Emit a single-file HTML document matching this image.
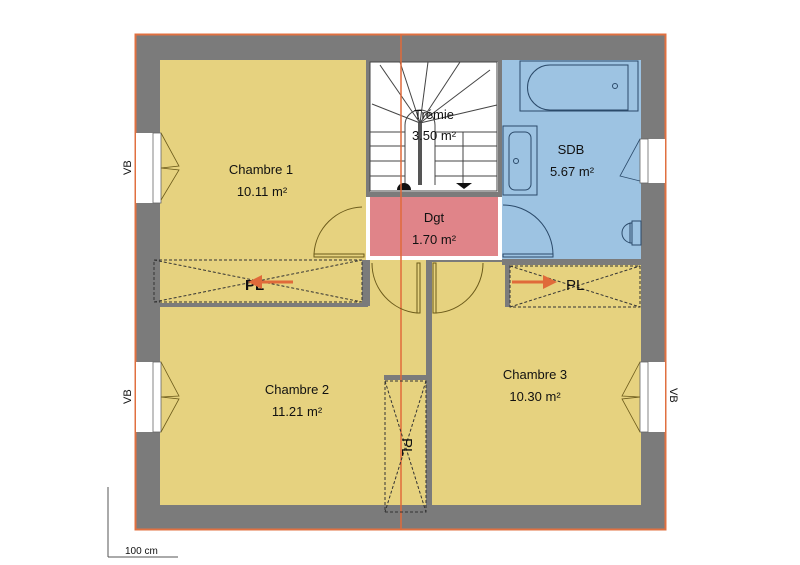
<!DOCTYPE html>
<html><head><meta charset="utf-8"><style>
html,body{margin:0;padding:0;background:#fff;width:800px;height:565px;overflow:hidden}
svg{display:block}
text{font-family:"Liberation Sans",sans-serif;fill:#111}
</style></head><body>
<svg width="800" height="565" viewBox="0 0 800 565" xmlns="http://www.w3.org/2000/svg">
<!-- outer walls -->
<rect x="135" y="34" width="531" height="496" fill="#7b7b7b"/>
<!-- rooms -->
<rect x="160" y="60" width="206" height="246" fill="#e6d27f"/>
<rect x="160" y="306" width="226" height="199" fill="#e6d27f"/>
<rect x="384" y="260" width="42" height="245" fill="#e6d27f"/>
<rect x="370" y="260" width="56" height="115" fill="#e6d27f"/>
<rect x="432" y="262" width="209" height="243" fill="#e6d27f"/>
<rect x="370" y="62" width="128" height="130" fill="#fff"/>
<rect x="370" y="197" width="130" height="63" fill="#e08489"/>
<rect x="502" y="60" width="139" height="199" fill="#9dc3e2"/>
<!-- internal walls -->
<rect x="366" y="60" width="4" height="200" fill="#7b7b7b"/>
<rect x="370" y="192" width="130" height="5" fill="#7b7b7b"/>
<rect x="498" y="60" width="4" height="200" fill="#7b7b7b"/>
<rect x="160" y="303" width="208" height="4" fill="#7b7b7b"/>
<rect x="362" y="260" width="6" height="47" fill="#7b7b7b"/>
<rect x="426" y="260" width="6" height="245" fill="#7b7b7b"/>
<rect x="384" y="375" width="42" height="5" fill="#7b7b7b"/>
<rect x="502" y="259" width="139" height="6" fill="#7b7b7b"/>
<rect x="505" y="265" width="5" height="42" fill="#7b7b7b"/>
<rect x="370" y="256" width="128" height="4" fill="#fff"/>
<rect x="366" y="197" width="4" height="63" fill="#fff"/>
<rect x="498" y="197" width="4" height="63" fill="#fff"/>
<!-- orange outline -->
<rect x="135.5" y="34.5" width="530" height="495" fill="none" stroke="#e07040" stroke-width="2"/>
<!-- stairs -->
<g stroke="#444" stroke-width="1" fill="none">
<rect x="370" y="62" width="127" height="129"/>
<line x1="370" y1="132" x2="405" y2="132"/><line x1="370" y1="146" x2="405" y2="146"/><line x1="370" y1="161" x2="405" y2="161"/><line x1="370" y1="176" x2="405" y2="176"/>
<line x1="435" y1="132" x2="497" y2="132"/><line x1="435" y1="146" x2="497" y2="146"/><line x1="435" y1="161" x2="497" y2="161"/><line x1="435" y1="176" x2="497" y2="176"/>
<line x1="420" y1="123" x2="380" y2="65"/><line x1="420" y1="123" x2="400" y2="62"/><line x1="420" y1="123" x2="428" y2="62"/><line x1="420" y1="123" x2="460" y2="62"/><line x1="420" y1="123" x2="490" y2="70"/><line x1="420" y1="123" x2="497" y2="105"/><line x1="420" y1="123" x2="372" y2="104"/>
<path d="M405 185 V125 A15 15 0 0 1 435 125 V185"/>
<line x1="463" y1="132" x2="463" y2="183"/>
</g>
<rect x="418" y="123" width="4" height="62" fill="#555"/>
<path d="M456 183 L472 183 L464 189 Z" fill="#111"/>
<path d="M397 190 A7 7 0 0 1 411 190 Z" fill="#111"/>
<!-- red axis line -->
<line x1="401" y1="34" x2="401" y2="530" stroke="#e06a3a" stroke-width="1.5"/>
<!-- doors -->
<g stroke="#6b5a1a" stroke-width="1" fill="none">
<path d="M314 254 A50 50 0 0 1 362 207"/><rect x="314" y="254" width="50" height="3"/>
<path d="M372 263 A50 50 0 0 0 417 313"/><rect x="417" y="263" width="3" height="50"/>
<path d="M483 263 A50 50 0 0 1 436 313"/><rect x="433" y="263" width="3" height="50"/>
<path d="M503 205 A50 50 0 0 1 553 255" stroke="#2b4a6a"/><rect x="503" y="254" width="50" height="3" stroke="#2b4a6a"/>
</g>
<!-- closets -->
<g stroke="#333" stroke-width="1" stroke-dasharray="3,2" fill="none">
<rect x="154" y="260" width="208" height="42"/>
<line x1="154" y1="260" x2="362" y2="302"/><line x1="154" y1="302" x2="362" y2="260"/>
<rect x="510" y="266" width="130" height="41"/>
<line x1="510" y1="266" x2="640" y2="307"/><line x1="510" y1="307" x2="640" y2="266"/>
<rect x="385" y="381" width="41" height="131"/>
<line x1="385" y1="381" x2="426" y2="512"/><line x1="426" y1="381" x2="385" y2="512"/>
</g>
<text x="245" y="290" font-size="15" font-weight="bold">PL</text>
<line x1="293" y1="282" x2="260" y2="282" stroke="#e06a3a" stroke-width="3"/>
<path d="M248 282 L262 275 L262 289 Z" fill="#e06a3a"/>
<text x="566" y="290" font-size="15">PL</text>
<line x1="512" y1="282" x2="545" y2="282" stroke="#e06a3a" stroke-width="3"/>
<path d="M557 282 L543 275 L543 289 Z" fill="#e06a3a"/>
<text x="0" y="0" font-size="15" transform="translate(402,438) rotate(90)">PL</text>
<!-- SDB fixtures -->
<g stroke="#2b4a6a" stroke-width="1" fill="none">
<rect x="520" y="61" width="118" height="50"/>
<path d="M550 65 H628 V110 H550 A22 22 0 0 1 550 65 Z"/>
<circle cx="615" cy="86" r="2.5"/>
<rect x="503" y="126" width="34" height="69"/>
<rect x="509" y="132" width="22" height="58" rx="6"/>
<circle cx="516" cy="161" r="2.5"/>
<path d="M632 223 H630 V243 H632 A10 10 0 0 1 632 223 Z"/>
<rect x="632" y="221" width="9" height="24"/>
</g>
<!-- windows -->
<g fill="#fff" stroke="#666" stroke-width="0.8">
<rect x="136" y="133" width="17" height="70" stroke="none"/>
<rect x="153" y="133" width="8" height="70"/>
<rect x="136" y="362" width="17" height="70" stroke="none"/>
<rect x="153" y="362" width="8" height="70"/>
<rect x="648" y="139" width="17" height="44" stroke="none"/>
<rect x="640" y="139" width="8" height="44"/>
<rect x="648" y="362" width="17" height="70" stroke="none"/>
<rect x="640" y="362" width="8" height="70"/>
</g>
<g stroke="#6b5a1a" stroke-width="0.8" fill="none">
<path d="M161 133 L179 166 L161 168 M161 200 L179 170 L161 168"/>
<path d="M161 362 L179 396 L161 397 M161 432 L179 399 L161 397"/>
<path d="M640 139 L620 176 L640 181" stroke="#2b4a6a"/>
<path d="M640 362 L622 396 L640 397 M640 432 L622 399 L640 397"/>
</g>
<text x="0" y="0" font-size="11" transform="translate(131,175) rotate(-90)">VB</text>
<text x="0" y="0" font-size="11" transform="translate(131,404) rotate(-90)">VB</text>
<text x="0" y="0" font-size="11" transform="translate(670,388) rotate(90)">VB</text>
<!-- labels -->
<g font-size="13" text-anchor="middle">
<text x="261" y="174">Chambre 1</text><text x="262" y="196">10.11 m²</text>
<text x="434" y="119">Trémie</text><text x="434" y="140">3.50 m²</text>
<text x="434" y="222">Dgt</text><text x="434" y="244">1.70 m²</text>
<text x="571" y="154">SDB</text><text x="572" y="176">5.67 m²</text>
<text x="297" y="394">Chambre 2</text><text x="297" y="416">11.21 m²</text>
<text x="535" y="379">Chambre 3</text><text x="535" y="401">10.30 m²</text>
</g>
<!-- scale -->
<line x1="108" y1="487" x2="108" y2="557" stroke="#555"/>
<line x1="108" y1="557" x2="178" y2="557" stroke="#555"/>
<text x="125" y="554" font-size="10">100 cm</text>
</svg>
</body></html>
